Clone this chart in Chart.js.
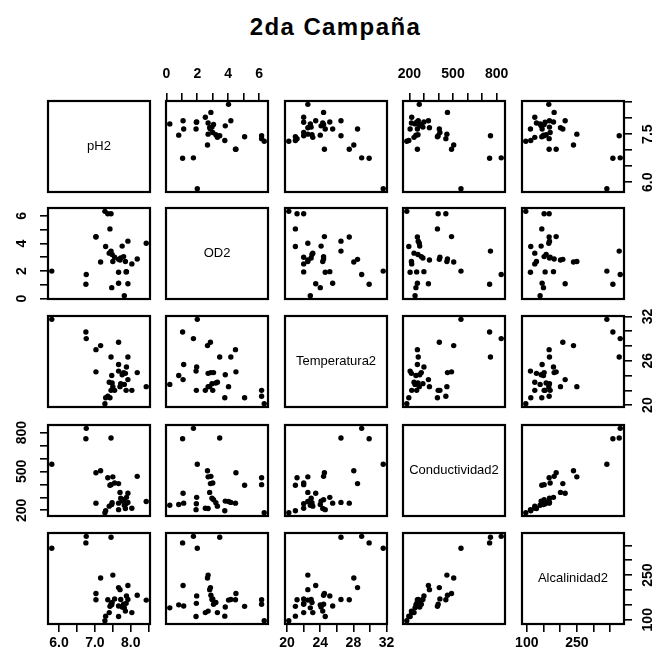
<!DOCTYPE html>
<html>
<head>
<meta charset="utf-8">
<script src="https://cdn.jsdelivr.net/npm/chart.js@4.4.1/dist/chart.umd.min.js"></script>
<style>
  body { margin: 0; background: #fff; }
  #wrap { position: relative; width: 657px; height: 662px; overflow: hidden; background: #fff; }
  #wrap canvas { position: absolute; }
  #title {
    position: absolute; left: 0; width: 671px; top: 13px;
    text-align: center; line-height: 24px;
    font: bold 24px "Liberation Sans", Arial, sans-serif; letter-spacing: 1.4px;
  }
</style>
</head>
<body>
<div id="wrap"><div id="title">2da Campaña</div></div>
<script>
// scatterplot matrix of the second sampling campaign
const varNames = ['pH2', 'OD2', 'Temperatura2', 'Conductividad2', 'Alcalinidad2'];

const pH2 = [5.80, 7.45, 6.75, 6.76, 8.43, 8.18, 8.03, 7.28, 7.45, 7.36, 7.42, 7.16, 7.66, 7.03, 7.03, 7.92, 7.66,
  7.92, 7.47, 7.82, 7.30, 7.50, 7.70, 7.66, 7.87, 7.76, 7.80, 7.48, 7.72, 7.55, 7.85, 7.40, 7.88];
const OD2 = [2.00, 3.45, 1.05, 1.75, 4.02, 2.88, 2.52, 6.33, 6.16, 6.16, 5.06, 2.66, 2.85, 4.47, 4.50, 4.17, 1.12,
  1.08, 0.80, 0.22, 3.78, 2.70, 2.80, 1.92, 1.94, 3.81, 3.05, 3.20, 2.95, 3.00, 2.70, 3.30, 1.96];
const Temperatura2 = [31.6, 26.5, 29.9, 29.0, 22.5, 24.4, 22.0, 20.2, 22.0, 21.2, 21.0, 28.05, 28.5, 27.5, 24.5, 26.5, 25.5,
  23.45, 24.0, 22.8, 21.0, 22.5, 22.5, 24.6, 22.0, 24.1, 24.4, 23.0, 22.9, 22.0, 24.3, 23.1, 25.15];
const Conductividad2 = [555, 758, 752, 832, 268, 462, 216, 182, 398, 451, 393, 505, 406, 255, 490, 261, 255,
  331, 245, 239, 196, 458, 338, 205, 250, 271, 282, 259, 293, 410, 214, 232, 300];
const Alcalinidad2 = [340, 377, 358, 380, 166, 182, 124, 97, 152, 167, 145, 240, 208, 167, 188, 168, 146,
  215, 150, 140, 112, 250, 201, 111, 155, 143, 152, 158, 168, 170, 129, 124, 180];

const series = [pH2, OD2, Temperatura2, Conductividad2, Alcalinidad2];

// tick marks per variable, and which of them carry a label
const tickValues = [
  [6.0, 6.5, 7.0, 7.5, 8.0, 8.5],
  [0, 1, 2, 3, 4, 5, 6],
  [20, 22, 24, 26, 28, 30, 32],
  [200, 300, 400, 500, 600, 700, 800],
  [100, 150, 200, 250, 300, 350]
];
const xTickLabels = [[6.0, 7.0, 8.0], [0, 2, 4, 6], [20, 24, 28, 32], [200, 500, 800], [100, 250]];
const yTickLabels = [[6.0, 7.5], [0, 2, 4, 6], [20, 26, 32], [200, 500, 800], [100, 250]];
const labelDecimals = [1, 0, 0, 0, 0];

// panel grid
const colX = [48, 166, 285, 403, 522];
const rowY = [101, 208, 316, 425, 533];
const PW = 102, PH = 91, M = 44;
const FONT = '"Liberation Sans", Arial, sans-serif';

function range(v) {
  const lo = Math.min(...series[v]), hi = Math.max(...series[v]);
  const pad = (hi - lo) * 0.04;
  return [lo - pad, hi + pad];
}

function axis(v, pos, shown) {
  const [lo, hi] = range(v);
  const horiz = pos === 'top' || pos === 'bottom';
  const size = shown ? M : 0;
  return {
    type: 'linear', position: pos, min: lo, max: hi, bounds: 'data', display: shown,
    grid: { drawOnChartArea: false, drawTicks: true, tickLength: 8, color: '#000', lineWidth: 1.6 },
    border: { display: false },
    ticks: { display: false },
    afterBuildTicks: s => { s.ticks = tickValues[v].map(t => ({ value: t })); },
    afterFit: s => { if (horiz) s.height = size; else s.width = size; }
  };
}

const panelPlugin = {
  id: 'panel',
  afterDraw(chart, args, opts) {
    const ctx = chart.ctx, a = chart.chartArea;
    ctx.save();
    ctx.strokeStyle = '#000';
    ctx.lineWidth = 2.2;
    ctx.strokeRect(a.left, a.top, a.right - a.left, a.bottom - a.top);
    ctx.fillStyle = '#000';
    ctx.textAlign = 'center';
    ctx.textBaseline = 'middle';
    if (opts.name) {
      ctx.font = '13px ' + FONT;
      ctx.fillText(opts.name, (a.left + a.right) / 2, (a.top + a.bottom) / 2);
    }
    ctx.font = 'bold 14px ' + FONT;
    const xs = chart.scales.x, ys = chart.scales.y;
    if (xs.options.display) {
      const y = xs.options.position === 'top' ? a.top - 27 : a.bottom + 19;
      xTickLabels[opts.xv].forEach(t => {
        ctx.fillText(t.toFixed(labelDecimals[opts.xv]), xs.getPixelForValue(t), y);
      });
    }
    if (ys.options.display) {
      const x = ys.options.position === 'left' ? a.left - 26 : a.right + 24;
      yTickLabels[opts.yv].forEach(t => {
        ctx.save();
        ctx.translate(x, ys.getPixelForValue(t));
        ctx.rotate(-Math.PI / 2);
        ctx.fillText(t.toFixed(labelDecimals[opts.yv]), 0, 0);
        ctx.restore();
      });
    }
    ctx.restore();
  }
};

const wrap = document.getElementById('wrap');
for (let i = 0; i < 5; i++) {
  for (let j = 0; j < 5; j++) {
    const canvas = document.createElement('canvas');
    canvas.width = PW + 2 * M;
    canvas.height = PH + 2 * M;
    canvas.style.left = (colX[j] - M) + 'px';
    canvas.style.top = (rowY[i] - M) + 'px';
    canvas.style.width = canvas.width + 'px';
    canvas.style.height = canvas.height + 'px';
    wrap.appendChild(canvas);

    // outer axes alternate sides like pairs()
    const showTop = i === 0 && j % 2 === 1;
    const showBottom = i === 4 && j % 2 === 0;
    const showLeft = j === 0 && i % 2 === 1;
    const showRight = j === 4 && i % 2 === 0;

    const points = i === j ? [] : series[j].map((xv, k) => ({ x: xv, y: series[i][k] }));

    new Chart(canvas, {
      type: 'scatter',
      data: {
        datasets: [{
          data: points,
          pointRadius: 2.7,
          pointBackgroundColor: '#000',
          pointBorderWidth: 0,
          pointHoverRadius: 2.7
        }]
      },
      options: {
        responsive: false,
        animation: false,
        devicePixelRatio: 1,
        events: [],
        layout: {
          autoPadding: false,
          padding: {
            top: showTop ? 0 : M,
            bottom: showBottom ? 0 : M,
            left: showLeft ? 0 : M,
            right: showRight ? 0 : M
          }
        },
        scales: {
          x: axis(j, showTop ? 'top' : 'bottom', showTop || showBottom),
          y: axis(i, showLeft ? 'left' : 'right', showLeft || showRight)
        },
        plugins: {
          legend: { display: false },
          tooltip: { enabled: false },
          panel: { name: i === j ? varNames[i] : '', xv: j, yv: i }
        }
      },
      plugins: [panelPlugin]
    });
  }
}
</script>
</body>
</html>
